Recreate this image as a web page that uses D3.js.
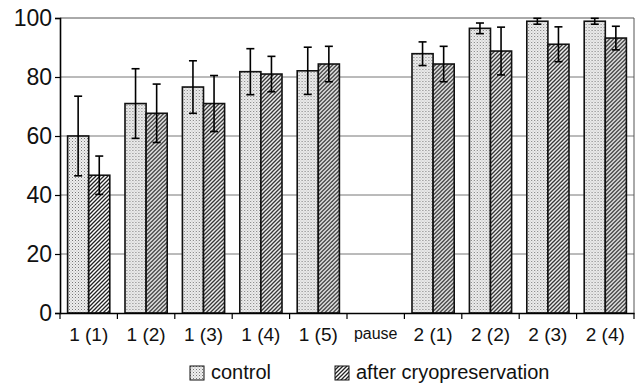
<!DOCTYPE html>
<html lang="en">
<head>
<meta charset="UTF-8">
<title>Control vs after cryopreservation</title>
<style>
  body { margin: 0; background: #fff; font-family: "Liberation Sans", Arial, sans-serif; }
</style>
</head>
<body>
<script src="https://d3js.org/d3.v7.min.js"></script>
<script>
// data
const categories = ["1 (1)", "1 (2)", "1 (3)", "1 (4)", "1 (5)", "pause", "2 (1)", "2 (2)", "2 (3)", "2 (4)"];
const controlVals = [60, 71, 76.6, 81.8, 82.1, null, 87.9, 96.5, 98.9, 98.9];
const controlErr  = [13.5, 11.8, 8.9, 7.8, 8, null, 4, 1.8, 1, 1];
const cryoVals    = [46.7, 67.7, 71, 81, 84.4, null, 84.4, 88.8, 91.1, 93.2];
const cryoErr     = [6.5, 9.9, 9.5, 6, 6, null, 6, 8.1, 5.9, 4];
const yTicks = [0, 20, 40, 60, 80, 100];
const seriesNames = ["control", "after cryopreservation"];

const width = 640, height = 383;
const margin = {top: 18, right: 6, bottom: 70, left: 60};

const svg = d3.select("body").append("svg")
    .attr("width", width)
    .attr("height", height);

const defs = svg.append("defs");

// stipple for control
const dots = defs.append("pattern")
    .attr("id", "dots")
    .attr("patternUnits", "userSpaceOnUse")
    .attr("width", 3).attr("height", 3);
dots.append("rect").attr("width", 3).attr("height", 3).attr("fill", "#eeeeee");
dots.append("rect").attr("x", 0).attr("y", 0).attr("width", 1).attr("height", 1).attr("fill", "#777");
dots.append("rect").attr("x", 1.5).attr("y", 1.5).attr("width", 1).attr("height", 1).attr("fill", "#aaa");

// diagonal hatch for after cryopreservation
const hatch = defs.append("pattern")
    .attr("id", "hatch")
    .attr("patternUnits", "userSpaceOnUse")
    .attr("width", 4).attr("height", 4);
hatch.append("rect").attr("width", 4).attr("height", 4).attr("fill", "#fff");
hatch.append("path")
    .attr("d", "M-1,1 l2,-2 M0,4 l4,-4 M3,5 l2,-2")
    .attr("stroke", "#222")
    .attr("stroke-width", 1.3);

const x = d3.scaleBand()
    .domain(categories)
    .range([margin.left, width - margin.right])
    .paddingInner(0)
    .paddingOuter(0);

const y = d3.scaleLinear()
    .domain([0, 100])
    .range([height - margin.bottom, margin.top]);

const inner = d3.scaleBand()
    .domain(seriesNames)
    .range([0, x.bandwidth()])
    .paddingOuter(0.36)
    .paddingInner(0);

// gridlines
svg.append("g")
    .selectAll("line")
    .data(yTicks.filter(d => d > 0 && d < 100))
    .join("line")
    .attr("x1", margin.left).attr("x2", width - margin.right)
    .attr("y1", d => y(d)).attr("y2", d => y(d))
    .attr("stroke", "#777").attr("stroke-width", 1);

// frame top/right
svg.append("path")
    .attr("d", `M${margin.left},${y(100)}H${width - margin.right}V${y(0)}`)
    .attr("fill", "none")
    .attr("stroke", "#555").attr("stroke-width", 1);

const rows = categories.map((c, i) => ({cat: c, vals: [
    {s: seriesNames[0], v: controlVals[i], e: controlErr[i], fill: "url(#dots)"},
    {s: seriesNames[1], v: cryoVals[i], e: cryoErr[i], fill: "url(#hatch)"}
]})).filter(d => d.vals[0].v != null);

const groups = svg.append("g").selectAll("g")
    .data(rows)
    .join("g")
    .attr("transform", d => `translate(${x(d.cat)},0)`);

groups.selectAll("rect")
    .data(d => d.vals)
    .join("rect")
    .attr("x", d => inner(d.s))
    .attr("y", d => y(d.v))
    .attr("width", inner.bandwidth())
    .attr("height", d => y(0) - y(d.v))
    .attr("fill", d => d.fill)
    .attr("stroke", "#111")
    .attr("stroke-width", 1.6);

const err = groups.selectAll("g.err")
    .data(d => d.vals)
    .join("g")
    .attr("class", "err")
    .attr("transform", d => `translate(${inner(d.s) + inner.bandwidth() / 2},0)`)
    .attr("stroke", "#000")
    .attr("stroke-width", 1.6);
err.append("line")
    .attr("y1", d => y(d.v + d.e)).attr("y2", d => y(d.v - d.e));
err.append("line")
    .attr("x1", -4).attr("x2", 4)
    .attr("y1", d => y(d.v + d.e)).attr("y2", d => y(d.v + d.e));
err.append("line")
    .attr("x1", -4).attr("x2", 4)
    .attr("y1", d => y(d.v - d.e)).attr("y2", d => y(d.v - d.e));

// y axis
const yAxis = svg.append("g")
    .attr("transform", `translate(${margin.left},0)`)
    .call(d3.axisLeft(y).tickValues(yTicks).tickSize(5).tickPadding(3));
yAxis.select(".domain").attr("stroke", "#000").attr("stroke-width", 1.6);
yAxis.selectAll(".tick line").attr("stroke", "#000").attr("stroke-width", 1.2);
yAxis.selectAll("text")
    .attr("font-family", "Liberation Sans, Arial, sans-serif")
    .attr("font-size", 23).attr("fill", "#111");

// x axis
const xAxis = svg.append("g")
    .attr("transform", `translate(0,${y(0)})`)
    .call(d3.axisBottom(x).tickSize(0).tickPadding(15));
xAxis.select(".domain").attr("stroke", "#000").attr("stroke-width", 1.6);
xAxis.selectAll("text")
    .attr("font-family", "Liberation Sans, Arial, sans-serif")
    .attr("font-size", d => d === "pause" ? 16 : 19)
    .attr("fill", "#111");
// ticks at band boundaries
xAxis.append("g").selectAll("line")
    .data(categories.concat(["end"]))
    .join("line")
    .attr("x1", (d, i) => i < categories.length ? x(d) : x(categories[categories.length - 1]) + x.bandwidth())
    .attr("x2", (d, i) => i < categories.length ? x(d) : x(categories[categories.length - 1]) + x.bandwidth())
    .attr("y1", 0).attr("y2", 6)
    .attr("stroke", "#000").attr("stroke-width", 1.2);

// legend
const legendX = [190, 335];
const legend = svg.append("g").selectAll("g")
    .data(seriesNames)
    .join("g")
    .attr("transform", (d, i) => `translate(${legendX[i]},366)`);
legend.append("rect")
    .attr("width", 14).attr("height", 14)
    .attr("fill", (d, i) => i === 0 ? "url(#dots)" : "url(#hatch)")
    .attr("stroke", "#111").attr("stroke-width", 1);
legend.append("text")
    .attr("x", 21).attr("y", 13)
    .attr("font-family", "Liberation Sans, Arial, sans-serif")
    .attr("font-size", 20).attr("fill", "#111")
    .text(d => d);
</script>
</body>
</html>
